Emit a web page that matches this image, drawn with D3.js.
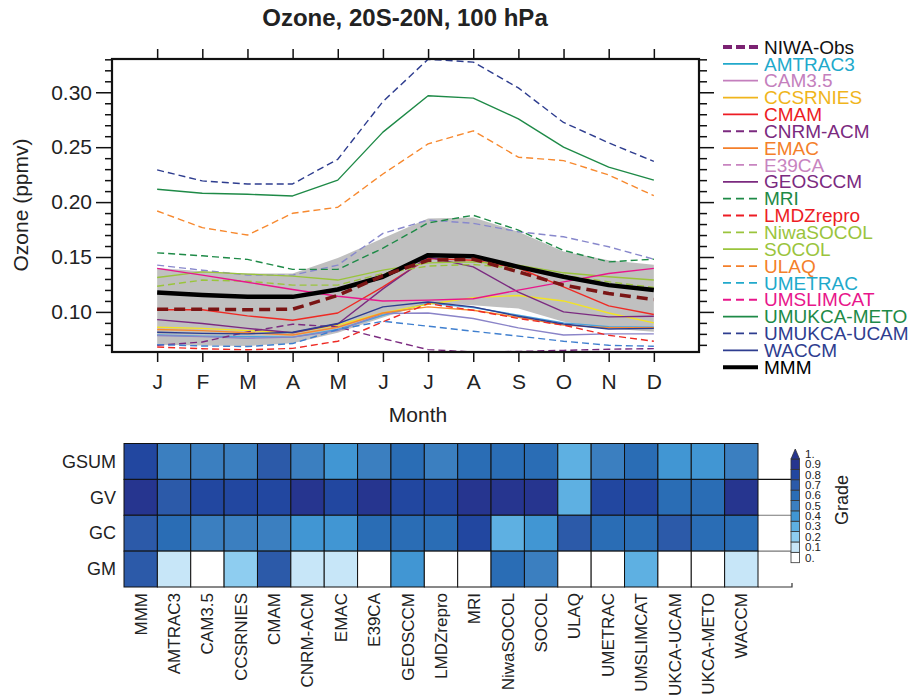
<!DOCTYPE html>
<html>
<head>
<meta charset="utf-8">
<script src="https://cdn.jsdelivr.net/npm/d3@7/dist/d3.min.js"></script>
<style>
  body { margin: 0; background: #fff; }
  svg text { font-family: Arial, "Liberation Sans", Helvetica, sans-serif; fill: #222; }
</style>
</head>
<body>
<script>

// --------------------------------------------------
// Data
// --------------------------------------------------

var months = ['J', 'F', 'M', 'A', 'M', 'J', 'J', 'A', 'S', 'O', 'N', 'D'];
var yMajorTicks = [0.10, 0.15, 0.20, 0.25, 0.30];

// ozone, ppmv, one value per month
var niwaObs    = [0.1025, 0.1025, 0.102, 0.1025, 0.115, 0.133, 0.147, 0.148, 0.1365, 0.1244, 0.1168, 0.1113];
var amtrac3    = [0.079, 0.078, 0.0775, 0.077, 0.084, 0.097, 0.108, 0.104, 0.097, 0.090, 0.0865, 0.086];
var cam35      = [0.0785, 0.0775, 0.076, 0.077, 0.083, 0.0985, 0.099, 0.094, 0.0855, 0.079, 0.080, 0.080];
var ccsrnies   = [0.086, 0.085, 0.083, 0.081, 0.088, 0.099, 0.107, 0.113, 0.115, 0.110, 0.099, 0.090];
var cmam       = [0.102, 0.102, 0.0964, 0.0924, 0.099, 0.1228, 0.1487, 0.147, 0.140, 0.1228, 0.1055, 0.0976];
var cnrmAcm    = [0.0696, 0.0726, 0.0818, 0.0888, 0.0863, 0.0757, 0.0657, 0.0635, 0.064, 0.065, 0.066, 0.0666];
var emac       = [0.084, 0.083, 0.081, 0.079, 0.086, 0.099, 0.1046, 0.1015, 0.095, 0.088, 0.0857, 0.0857];
var e39ca      = [0.1426, 0.138, 0.1335, 0.1335, 0.1426, 0.1715, 0.1837, 0.1807, 0.173, 0.1684, 0.1593, 0.148];
var geosccm    = [0.093, 0.0895, 0.085, 0.081, 0.089, 0.121, 0.150, 0.141, 0.118, 0.100, 0.0955, 0.096];
var mri        = [0.1538, 0.1511, 0.1478, 0.1387, 0.1387, 0.158, 0.181, 0.188, 0.1745, 0.156, 0.1456, 0.148];
var lmdzrepro  = [0.068, 0.0665, 0.0655, 0.0668, 0.0733, 0.091, 0.1075, 0.1015, 0.094, 0.088, 0.0787, 0.0733];
var niwaSocol  = [0.1234, 0.129, 0.128, 0.1244, 0.1244, 0.135, 0.1417, 0.1432, 0.1396, 0.1335, 0.1274, 0.1222];
var socol      = [0.1314, 0.1365, 0.1344, 0.1326, 0.129, 0.138, 0.1447, 0.1456, 0.1426, 0.1356, 0.132, 0.129];
var ulaq       = [0.1919, 0.1767, 0.170, 0.1898, 0.1953, 0.2256, 0.253, 0.2649, 0.2409, 0.2378, 0.2247, 0.2058];
var umetrac    = [0.0702, 0.069, 0.0685, 0.0712, 0.084, 0.0915, 0.087, 0.0824, 0.078, 0.0733, 0.0696, 0.0687];
var umslimcat  = [0.1396, 0.1335, 0.127, 0.1204, 0.1143, 0.110, 0.1107, 0.112, 0.1198, 0.1274, 0.135, 0.1396];
var umukcaMeto = [0.2117, 0.208, 0.2071, 0.2056, 0.220, 0.2637, 0.2968, 0.2947, 0.2758, 0.250, 0.2318, 0.220];
var umukcaUcam = [0.2293, 0.2193, 0.2165, 0.2165, 0.239, 0.2916, 0.330, 0.3275, 0.304, 0.2725, 0.254, 0.237];
var waccm      = [0.0815, 0.0805, 0.080, 0.0815, 0.0894, 0.1046, 0.109, 0.1046, 0.096, 0.089, 0.0845, 0.085];
var mmm        = [0.1177, 0.1155, 0.1137, 0.1137, 0.1204, 0.132, 0.1517, 0.1508, 0.141, 0.132, 0.1244, 0.120];

// grey spread band
var bandLow  = [0.070, 0.0695, 0.069, 0.0715, 0.081, 0.095, 0.108, 0.106, 0.103, 0.091, 0.085, 0.082];
var bandHigh = [0.140, 0.137, 0.135, 0.135, 0.149, 0.167, 0.185, 0.186, 0.173, 0.155, 0.147, 0.143];

var seriesNames = ['NIWA-Obs', 'AMTRAC3', 'CAM3.5', 'CCSRNIES', 'CMAM', 'CNRM-ACM', 'EMAC', 'E39CA',
    'GEOSCCM', 'MRI', 'LMDZrepro', 'NiwaSOCOL', 'SOCOL', 'ULAQ', 'UMETRAC', 'UMSLIMCAT',
    'UMUKCA-METO', 'UMUKCA-UCAM', 'WACCM', 'MMM'];
var seriesValues = [niwaObs, amtrac3, cam35, ccsrnies, cmam, cnrmAcm, emac, e39ca,
    geosccm, mri, lmdzrepro, niwaSocol, socol, ulaq, umetrac, umslimcat,
    umukcaMeto, umukcaUcam, waccm, mmm];

// grades heatmap
var gradeRows = ['GSUM', 'GV', 'GC', 'GM'];
var gradeCols = ['MMM', 'AMTRAC3', 'CAM3.5', 'CCSRNIES', 'CMAM', 'CNRM-ACM', 'EMAC', 'E39CA',
    'GEOSCCM', 'LMDZrepro', 'MRI', 'NiwaSOCOL', 'SOCOL', 'ULAQ', 'UMETRAC', 'UMSLIMCAT',
    'UKCA-UCAM', 'UKCA-METO', 'WACCM'];
var gsum = [0.8, 0.5, 0.5, 0.5, 0.7, 0.5, 0.4, 0.5, 0.6, 0.5, 0.6, 0.6, 0.6, 0.3, 0.5, 0.6, 0.4, 0.4, 0.5];
var gv   = [0.9, 0.7, 0.8, 0.8, 0.8, 0.9, 0.8, 0.9, 0.8, 0.8, 0.9, 0.9, 0.9, 0.3, 0.8, 0.8, 0.6, 0.6, 0.9];
var gc   = [0.7, 0.6, 0.5, 0.5, 0.5, 0.4, 0.4, 0.6, 0.6, 0.6, 0.8, 0.3, 0.4, 0.7, 0.6, 0.6, 0.7, 0.6, 0.6];
var gm   = [0.7, 0.1, 0.0, 0.2, 0.7, 0.1, 0.1, 0.0, 0.4, 0.0, 0.0, 0.6, 0.5, 0.0, 0.0, 0.3, 0.0, 0.0, 0.1];
var gradeValues = [gsum, gv, gc, gm];
var gradeTickLabels = ['0.', '0.1', '0.2', '0.3', '0.4', '0.5', '0.6', '0.7', '0.8', '0.9', '1.'];

// --------------------------------------------------
// Styles
// --------------------------------------------------

var lineColors = ['#7a1515', '#4aa3dc', '#8a84c8', '#f2e324', '#ee2a24', '#7b2a80', '#f7892f', '#8888cc',
    '#7b2a80', '#1e8a47', '#ee2a24', '#9ac43c', '#9ac43c', '#f7892f', '#3f7fcf', '#e8168b',
    '#1e8a47', '#2e3d8f', '#2e3d8f', '#000000'];
var legendColors = ['#7b2272', '#21a9cb', '#c47fbd', '#f0b51c', '#ed1c24', '#7b2a7f', '#f47f2a', '#c884c0',
    '#7b2a7f', '#1e8a47', '#ed1c24', '#9ac43c', '#9ac43c', '#f47f2a', '#21a9cb', '#e8168b',
    '#1e8a47', '#2e3d8f', '#2e3d8f', '#000000'];
var legendDashed = [1, 0, 0, 0, 0, 1, 0, 1, 0, 1, 1, 1, 0, 1, 1, 1, 0, 1, 0, 0];
var lineDashed   = [1, 0, 0, 0, 0, 1, 0, 1, 0, 1, 1, 1, 0, 1, 1, 0, 0, 1, 0, 0];
var gradeColors = ['#ffffff', '#c7e6f8', '#8ecdf0', '#5eb0e2', '#4196d3', '#3b7fc0', '#2a6db5', '#2c5aa9', '#2247a0', '#26358f'];

var svg = d3.select('body').append('svg')
    .attr('width', 912)
    .attr('height', 700);

// --------------------------------------------------
// Line chart
// --------------------------------------------------

var x = d3.scaleLinear().domain([-1, 12]).range([112, 699]);
var y = d3.scaleLinear().domain([0.0635, 0.3303]).range([352, 59]);
var yMinorTicks = d3.range(7, 34).map(d => d / 100).filter(d => Math.round(d * 100) % 5 != 0);

var chart = svg.append('g');

var band = d3.area()
    .x((d, i) => x(i))
    .y0((d, i) => y(bandLow[i]))
    .y1((d, i) => y(bandHigh[i]));

chart.append('path')
    .datum(months)
    .attr('d', band)
    .attr('fill', '#c0c0c0');

var line = d3.line()
    .x((d, i) => x(i))
    .y(d => y(d));

// models first, then MMM and obs on top
var drawOrder = d3.range(1, 19).concat([19, 0]);
chart.selectAll('.series')
    .data(drawOrder)
    .enter().append('path')
    .attr('class', 'series')
    .attr('d', i => line(seriesValues[i]))
    .attr('fill', 'none')
    .attr('stroke', i => lineColors[i])
    .attr('stroke-width', i => i == 19 ? 4.5 : (i == 0 ? 3.5 : 1.4))
    .attr('stroke-linejoin', 'round')
    .attr('stroke-dasharray', i => i == 0 ? '11,6' : (lineDashed[i] ? '7,4' : null));

// axes
function styleAxis(g) {
    g.select('.domain').remove();
    g.selectAll('line').attr('stroke', '#111').attr('stroke-width', 1.5);
    g.selectAll('text').attr('font-size', 21).style('fill', '#222');
}

chart.append('g')
    .attr('transform', 'translate(112,0)')
    .call(d3.axisLeft(y).tickValues(yMajorTicks).tickSize(16).tickPadding(4).tickFormat(d3.format('.2f')))
    .call(styleAxis);
chart.append('g')
    .attr('transform', 'translate(112,0)')
    .call(d3.axisLeft(y).tickValues(yMinorTicks).tickSize(7).tickFormat(''))
    .call(styleAxis);
chart.append('g')
    .attr('transform', 'translate(699,0)')
    .call(d3.axisRight(y).tickValues(yMajorTicks).tickSize(15).tickFormat(''))
    .call(styleAxis);
chart.append('g')
    .attr('transform', 'translate(699,0)')
    .call(d3.axisRight(y).tickValues(yMinorTicks).tickSize(8).tickFormat(''))
    .call(styleAxis);
chart.append('g')
    .attr('transform', 'translate(0,352)')
    .call(d3.axisBottom(x).tickValues(d3.range(12)).tickSize(10).tickPadding(12).tickFormat(i => months[i]))
    .call(styleAxis);
chart.append('g')
    .attr('transform', 'translate(0,59)')
    .call(d3.axisTop(x).tickValues(d3.range(12)).tickSize(10).tickFormat(''))
    .call(styleAxis);

chart.append('rect')
    .attr('x', 112).attr('y', 59)
    .attr('width', 587).attr('height', 293)
    .attr('fill', 'none')
    .attr('stroke', '#111')
    .attr('stroke-width', 2.2);

// titles
svg.append('text')
    .attr('x', 405).attr('y', 26)
    .attr('text-anchor', 'middle')
    .attr('font-size', 24)
    .attr('font-weight', 'bold')
    .text('Ozone, 20S-20N, 100 hPa');

svg.append('text')
    .attr('x', 418).attr('y', 422)
    .attr('text-anchor', 'middle')
    .attr('font-size', 21)
    .text('Month');

svg.append('text')
    .attr('transform', 'translate(28,205) rotate(-90)')
    .attr('text-anchor', 'middle')
    .attr('font-size', 21)
    .text('Ozone (ppmv)');

// legend
var legend = svg.append('g');
var legendRows = legend.selectAll('g')
    .data(seriesNames)
    .enter().append('g')
    .attr('transform', (d, i) => 'translate(0,' + (47 + i * 16.85) + ')');

legendRows.append('line')
    .attr('x1', 723).attr('x2', 758)
    .attr('stroke', (d, i) => legendColors[i])
    .attr('stroke-width', (d, i) => (i == 0 || i == 19) ? 4 : 1.8)
    .attr('stroke-dasharray', (d, i) => legendDashed[i] ? (i == 0 ? '9,4' : '8,5') : null);

legendRows.append('text')
    .attr('x', 764)
    .attr('dy', '0.35em')
    .attr('font-size', 19)
    .style('fill', (d, i) => i == 0 ? '#111' : legendColors[i])
    .text(d => d);

// --------------------------------------------------
// Grades heatmap
// --------------------------------------------------

var hx = d3.scaleBand().domain(gradeCols).range([124, 758]);
var hy = d3.scaleBand().domain(gradeRows).range([443.5, 587]);
var gradeColor = d3.scaleThreshold()
    .domain(d3.range(1, 10).map(d => d / 10 - 0.05))
    .range(gradeColors);

var heat = svg.append('g');

// right-side row lines
heat.selectAll('.rowline')
    .data(['GV', 'GC', 'GM'])
    .enter().append('line')
    .attr('x1', 758).attr('x2', 792)
    .attr('y1', d => hy(d)).attr('y2', d => hy(d))
    .attr('stroke', (d, i) => i == 0 ? '#111' : '#777')
    .attr('stroke-width', 1.2);
heat.append('path')
    .attr('d', 'M758,587H792V583')
    .attr('fill', 'none')
    .attr('stroke', '#333')
    .attr('stroke-width', 1.2);

gradeRows.forEach(function (row, r) {
    heat.selectAll('.cell-' + row)
        .data(gradeValues[r])
        .enter().append('rect')
        .attr('x', (d, i) => hx(gradeCols[i]))
        .attr('y', hy(row))
        .attr('width', hx.bandwidth())
        .attr('height', hy.bandwidth())
        .attr('fill', d => gradeColor(d))
        .attr('stroke', '#111')
        .attr('stroke-width', 1);
});

heat.selectAll('.rowlabel')
    .data(gradeRows)
    .enter().append('text')
    .attr('x', 116)
    .attr('y', d => hy(d) + hy.bandwidth() / 2)
    .attr('dy', '0.35em')
    .attr('text-anchor', 'end')
    .attr('font-size', 18)
    .text(d => d);

heat.selectAll('.collabel')
    .data(gradeCols)
    .enter().append('text')
    .attr('transform', d => 'translate(' + (hx(d) + hx.bandwidth() / 2) + ',593) rotate(-90)')
    .attr('dy', '0.35em')
    .attr('text-anchor', 'end')
    .attr('font-size', 17)
    .text(d => d);

// colorbar
var cb = d3.scaleLinear().domain([0, 1]).range([562.7, 459]);
var colorbar = svg.append('g');

colorbar.selectAll('rect')
    .data(gradeColors)
    .enter().append('rect')
    .attr('x', 791)
    .attr('y', (d, i) => cb((i + 1) / 10))
    .attr('width', 8.5)
    .attr('height', (d, i) => cb(i / 10) - cb((i + 1) / 10))
    .attr('fill', d => d)
    .attr('stroke', '#333')
    .attr('stroke-width', 0.8);

colorbar.append('path')
    .attr('d', 'M791,' + cb(1) + 'L799.5,' + cb(1) + 'L795.25,' + (cb(1) - 10) + 'Z')
    .attr('fill', gradeColors[9])
    .attr('stroke', '#333')
    .attr('stroke-width', 0.8);

colorbar.selectAll('text')
    .data(gradeTickLabels)
    .enter().append('text')
    .attr('x', 805)
    .attr('y', (d, i) => cb(i / 10 + 0.05))
    .attr('dy', '0.35em')
    .attr('font-size', 11.5)
    .text(d => d);

colorbar.append('text')
    .attr('transform', 'translate(848,500) rotate(-90)')
    .attr('text-anchor', 'middle')
    .attr('font-size', 18)
    .text('Grade');

</script>
</body>
</html>
